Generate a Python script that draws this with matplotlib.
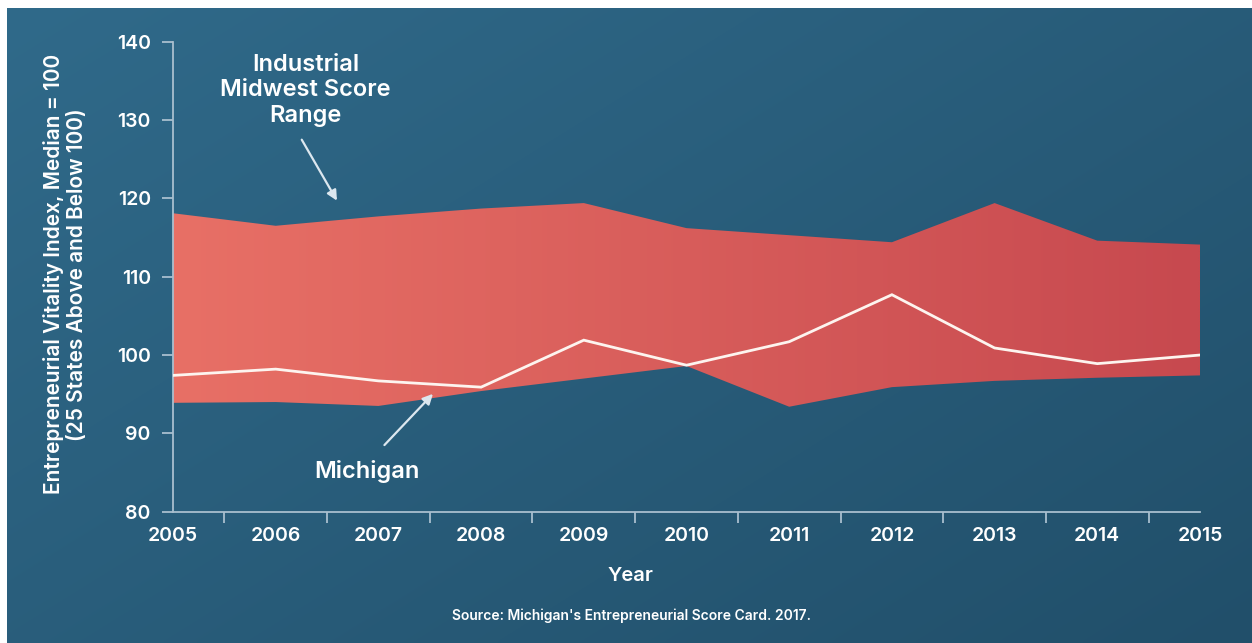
import numpy as np
import matplotlib
matplotlib.use("Agg")
import matplotlib.pyplot as plt
from matplotlib.ticker import FixedLocator

# values
years = [2005, 2006, 2007, 2008, 2009, 2010, 2011, 2012, 2013, 2014, 2015]
midwest_high = [118.1, 116.5, 117.7, 118.7, 119.4, 116.2, 115.3, 114.4, 119.4, 114.6, 114.1]
midwest_low = [93.9, 94.0, 93.5, 95.4, 97.0, 98.6, 93.4, 95.9, 96.7, 97.1, 97.4]
michigan = [97.4, 98.2, 96.7, 95.9, 101.9, 98.7, 101.7, 107.7, 100.9, 98.9, 100.0]
y_ticks = [80, 90, 100, 110, 120, 130, 140]

plt.rcParams['font.family'] = ['Inter', 'DejaVu Sans']
W, H = 1252, 643
fig = plt.figure(figsize=(W / 100, H / 100), dpi=100)
fig.patch.set_facecolor('white')

# background gradient (blue, lighter at top left)
bg = fig.add_axes([7 / W, 0, 1 - 7 / W, 1 - 8 / H])
bg.set_axis_off()
u = np.linspace(0, 1, 300)[None, :]
v = np.linspace(0, 1, 160)[:, None]
t = 0.55 * u + 0.45 * v
c0 = np.array([48, 106, 138]) / 255
c1 = np.array([33, 79, 106]) / 255
grad = c0[None, None, :] + (c1 - c0)[None, None, :] * t[:, :, None]
bg.imshow(grad, aspect='auto', extent=[0, 1, 0, 1], interpolation='bilinear')

ax = fig.add_axes([173 / W, (H - 511.7) / H, (1200 - 173) / W, (511.7 - 41.7) / H])
ax.patch.set_alpha(0)
ax.set_xlim(2005, 2015)
ax.set_ylim(80, 140)

# band with horizontal red gradient
band = ax.fill_between(years, midwest_low, midwest_high, facecolor='none', edgecolor='none')
gx = np.linspace(0, 1, 256)[None, :]
r0 = np.array([232, 112, 102]) / 255
r1 = np.array([199, 73, 79]) / 255
rgrad = r0[None, None, :] + (r1 - r0)[None, None, :] * gx[:, :, None]
im = ax.imshow(rgrad, aspect='auto', extent=[2005, 2015, min(midwest_low), max(midwest_high)],
               interpolation='bilinear', zorder=2)
im.set_clip_path(band.get_paths()[0], ax.transData)

ax.plot(years, michigan, color='#fdf4ef', lw=2.0, zorder=3, solid_joinstyle='miter')

axis_col = '#a9bfcf'
for s in ['top', 'right']:
    ax.spines[s].set_visible(False)
for s in ['left', 'bottom']:
    ax.spines[s].set_color(axis_col)
    ax.spines[s].set_linewidth(1.3)

ax.set_yticks(y_ticks)
ax.set_xticks(years)
ax.xaxis.set_minor_locator(FixedLocator([y + 0.5 for y in years[:-1]] + [2015]))
ax.tick_params(axis='x', which='major', length=0, pad=11, labelsize=14, labelcolor='white')
ax.tick_params(axis='x', which='minor', length=8, width=1.3, color=axis_col, direction='out')
ax.tick_params(axis='y', length=8, width=1.3, color=axis_col, pad=8, labelsize=14, labelcolor='white')
for lab in ax.get_xticklabels() + ax.get_yticklabels():
    lab.set_fontweight('semibold')

ax.set_ylabel('Entrepreneurial Vitality Index, Median = 100\n(25 States Above and Below 100)',
              color='white', fontsize=15, fontweight='semibold', linespacing=1.2)
ax.yaxis.set_label_coords(-0.084, 0.505)

fig.text(630 / W, 1 - 576 / H, 'Year', color='white', fontsize=14.5, fontweight='semibold',
         ha='center', va='center')
fig.text(632 / W, 1 - 616 / H, "Source: Michigan's Entrepreneurial Score Card. 2017.",
         color='white', fontsize=10, fontweight='semibold', ha='center', va='center')

arrow_col = '#dce7ef'
ax.text(2006.29, 133.8, 'Industrial\nMidwest Score\nRange', color='white', fontsize=17,
        fontweight='semibold', ha='center', va='center', linespacing=1.2, zorder=5)
ax.annotate('', xy=(2006.61, 119.4), xytext=(2006.24, 127.8),
            arrowprops=dict(arrowstyle='-|>,head_length=0.6,head_width=0.3', color=arrow_col, lw=1.6),
            zorder=5)
ax.text(2006.89, 85.1, 'Michigan', color='white', fontsize=17, fontweight='semibold',
        ha='center', va='center', zorder=5)
ax.annotate('', xy=(2007.55, 95.3), xytext=(2007.04, 88.25),
            arrowprops=dict(arrowstyle='-|>,head_length=0.6,head_width=0.3', color=arrow_col, lw=1.6),
            zorder=5)

fig.savefig('out.png', dpi=100, facecolor=fig.get_facecolor())
